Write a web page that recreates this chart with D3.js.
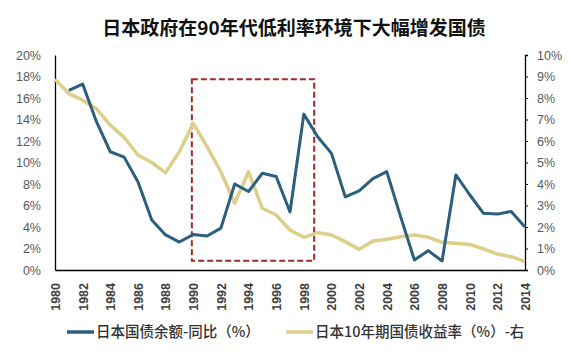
<!DOCTYPE html>
<html><head><meta charset="utf-8">
<script src="https://cdn.jsdelivr.net/npm/d3@7"></script>
<style>
body{margin:0;background:#fff;}
svg{display:block;font-family:"Noto Sans CJK SC","Noto Sans",sans-serif;}
</style></head><body>
<svg id="c" width="579" height="355"></svg>
<script>
const years = d3.range(1980, 2015);
const debtYoY = [null,16.7,17.3,13.8,11.0,10.5,8.2,4.65,3.26,2.6,3.3,3.16,3.9,8.0,7.3,9.0,8.7,5.4,14.5,12.4,10.85,6.8,7.35,8.5,9.15,4.96,0.93,1.8,0.84,8.84,7.0,5.27,5.2,5.45,4.0];
const yield10y = [8.87,8.2,7.9,7.5,6.74,6.17,5.35,5.0,4.53,5.5,6.82,5.74,4.57,3.1,4.57,2.87,2.56,1.86,1.52,1.74,1.63,1.32,0.96,1.35,1.43,1.55,1.63,1.52,1.29,1.24,1.19,0.98,0.74,0.62,0.39];
const leftTicks = [0,2,4,6,8,10,12,14,16,18,20];
const rightTicks = [0,1,2,3,4,5,6,7,8,9,10];
const xTicks = d3.range(1980, 2015, 2);
const boxYears = [1989.9, 1998.75];
const boxLeftVals = [0.85, 17.75];
const title = "日本政府在90年代低利率环境下大幅增发国债";
const seriesNames = ["日本国债余额-同比（%）", "日本10年期国债收益率（%）-右"];
const colors = ["#2b5f7d", "#dccf8a"];

const svg = d3.select("#c");
const L = 55, R = 525, T = 55, B = 270;
const x = d3.scaleLinear().domain([1980, 2014]).range([L, R]);
const yL = d3.scaleLinear().domain([0, 20]).range([B, T]);
const yR = d3.scaleLinear().domain([0, 10]).range([B, T]);

svg.append("text").attr("x", 294).attr("y", 35).attr("text-anchor", "middle")
  .attr("font-size", 19).attr("font-weight", 700).attr("fill", "#111").text(title);

// left axis
const gl = svg.append("g").attr("transform", `translate(${L},0)`)
  .call(d3.axisLeft(yL).tickValues(leftTicks).tickFormat(d => d + "%").tickSize(0).tickPadding(14));
gl.select(".domain").attr("stroke", "#000").attr("stroke-width", 1.3);
gl.selectAll("text").attr("font-size", 12.5).attr("fill", "#595959").attr("font-family", "Liberation Sans, Arial, sans-serif");

// right axis
const gr = svg.append("g").attr("transform", `translate(${R},0)`)
  .call(d3.axisRight(yR).tickValues(rightTicks).tickFormat(d => d + "%").tickSizeInner(3).tickSizeOuter(3).tickPadding(9));
gr.select(".domain").attr("stroke", "#000").attr("stroke-width", 1.3);
gr.selectAll("line").attr("stroke", "#000");
gr.selectAll("text").attr("font-size", 12.5).attr("fill", "#595959").attr("font-family", "Liberation Sans, Arial, sans-serif");

// x axis
const gx = svg.append("g").attr("transform", `translate(0,${B})`)
  .call(d3.axisBottom(x).tickValues(xTicks).tickFormat(d3.format("d")).tickSize(0));
gx.select(".domain").attr("stroke", "#000").attr("stroke-width", 1.3);
gx.selectAll("text").attr("font-size", 12.5).attr("font-weight", 700).attr("fill", "#404040")
  .attr("font-family", "Liberation Sans, Arial, sans-serif")
  .attr("text-anchor", "end").attr("transform", "rotate(-90)")
  .attr("x", -13).attr("y", 0).attr("dy", "0.35em");

// dashed box
svg.append("rect")
  .attr("x", x(boxYears[0])).attr("y", yL(boxLeftVals[1]))
  .attr("width", x(boxYears[1]) - x(boxYears[0]))
  .attr("height", yL(boxLeftVals[0]) - yL(boxLeftVals[1]))
  .attr("fill", "none").attr("stroke", "#9e2a2b").attr("stroke-width", 2).attr("stroke-dasharray", "6,3");

// lines
const lineL = d3.line().defined(d => d[1] != null).x(d => x(d[0])).y(d => yL(d[1]));
const lineR = d3.line().x(d => x(d[0])).y(d => yR(d[1]));
svg.append("path").datum(years.map((yr, i) => [yr, yield10y[i]])).attr("d", lineR)
  .attr("fill", "none").attr("stroke", colors[1]).attr("stroke-width", 3.5).attr("stroke-linejoin", "round");
svg.append("path").datum(years.map((yr, i) => [yr, debtYoY[i]])).attr("d", lineL)
  .attr("fill", "none").attr("stroke", colors[0]).attr("stroke-width", 3).attr("stroke-linejoin", "round");

// legend
const lg = [{x: 67, c: colors[0], t: seriesNames[0]}, {x: 286, c: colors[1], t: seriesNames[1]}];
lg.forEach(d => {
  svg.append("line").attr("x1", d.x).attr("x2", d.x + 27).attr("y1", 332).attr("y2", 332)
    .attr("stroke", d.c).attr("stroke-width", 3.5);
  svg.append("text").attr("x", d.x + 29).attr("y", 332).attr("dy", "0.35em")
    .attr("font-size", 14.5).attr("font-weight", 500).attr("fill", "#333").text(d.t);
});
</script>
</body></html>
